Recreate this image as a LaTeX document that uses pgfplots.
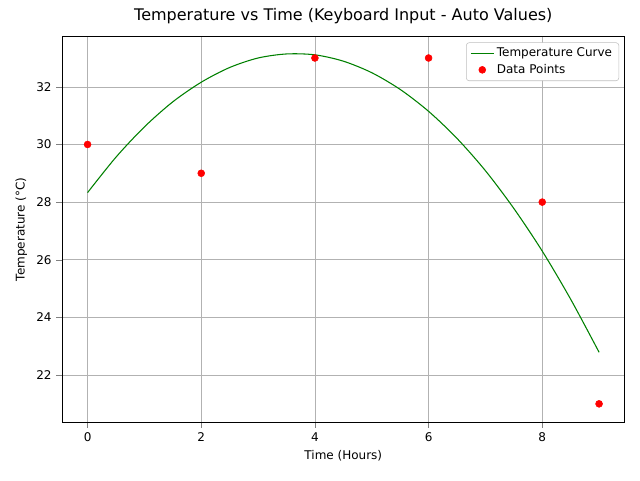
\documentclass[border=0pt]{standalone}
\usepackage{pgfplots}
\pgfplotsset{compat=1.18}
\usepackage{fontspec}
\setmainfont{DejaVu Sans}
\begin{document}
\begin{tikzpicture}
\begin{axis}[
  scale only axis, width=422pt, height=289pt,
  xmin=-0.45, xmax=9.45, ymin=20.37, ymax=33.74,
  xtick={0,2,4,6,8}, ytick={22,24,26,28,30,32},
  grid=major, grid style={gray!60},
  tick align=outside, xtick pos=bottom, ytick pos=left,
  tick label style={font=\small}, label style={font=\small},
  /pgf/number format/assume math mode=true,
  xlabel={Time (Hours)}, ylabel={Temperature (°C)},
  title={Temperature vs Time (Keyboard Input - Auto Values)},
  title style={font=\large},
  legend style={at={(0.99,0.985)}, anchor=north east, font=\small, draw=gray!50, rounded corners=2pt},
  legend cell align=left,
]
\addplot[green!50!black, thick, smooth] coordinates {
(0,28.33)(0.5,29.56)(1,30.61)(1.5,31.48)(2,32.16)(2.5,32.67)(3,33.00)(3.5,33.14)(4,33.11)(4.5,32.89)(5,32.49)(5.5,31.91)(6,31.15)(6.5,30.21)(7,29.09)(7.5,27.78)(8,26.30)(8.5,24.63)(9,22.79)};
\addlegendentry{Temperature Curve}
\addplot[only marks, mark=*, red, mark size=2.6pt] coordinates {(0,30)(2,29)(4,33)(6,33)(8,28)(9,21)};
\addlegendentry{Data Points}
\end{axis}
\useasboundingbox (current axis.south west) ++(-62*0.75pt,-58*0.75pt) rectangle ++(640*0.75pt,480*0.75pt);
\end{tikzpicture}
\end{document}
